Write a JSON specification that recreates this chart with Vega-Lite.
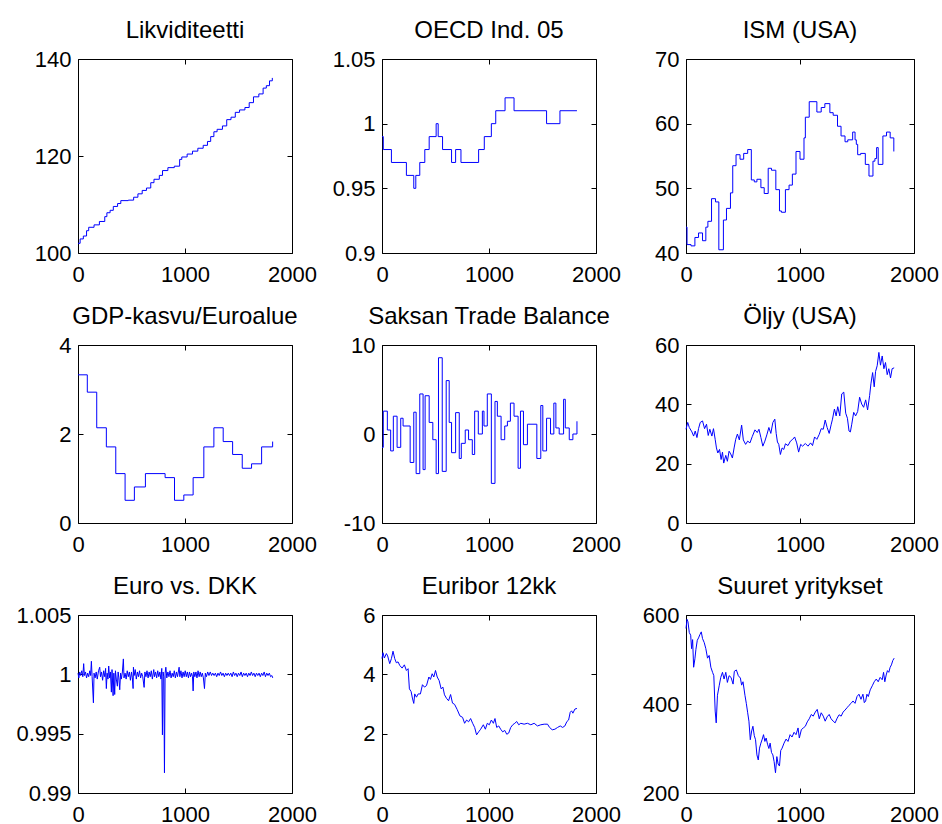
{
"$schema": "https://vega.github.io/schema/vega-lite/v6.json",
"autosize": {"type": "none"},
"padding": {"left": 78, "top": 59, "right": 864, "bottom": 765},
"background": "white",
"datasets": {
"likv": [{"x":0,"y":102.0},{"x":20,"y":102.9},{"x":50,"y":103.5},{"x":80,"y":104.6},{"x":100,"y":105.3},{"x":150,"y":105.8},{"x":200,"y":106.5},{"x":250,"y":107.5},{"x":270,"y":108.3},{"x":300,"y":108.8},{"x":330,"y":109.6},{"x":370,"y":110.2},{"x":400,"y":110.8},{"x":470,"y":110.9},{"x":520,"y":111.5},{"x":560,"y":112.2},{"x":600,"y":112.9},{"x":640,"y":113.4},{"x":680,"y":114.5},{"x":710,"y":115.2},{"x":760,"y":116.0},{"x":790,"y":117.0},{"x":840,"y":117.6},{"x":900,"y":117.9},{"x":950,"y":119.3},{"x":970,"y":119.8},{"x":1020,"y":120.4},{"x":1070,"y":121.0},{"x":1120,"y":121.6},{"x":1170,"y":122.2},{"x":1210,"y":123.0},{"x":1240,"y":124.0},{"x":1270,"y":125.0},{"x":1300,"y":125.5},{"x":1350,"y":126.2},{"x":1390,"y":127.5},{"x":1430,"y":128.0},{"x":1470,"y":129.0},{"x":1510,"y":129.5},{"x":1560,"y":130.0},{"x":1600,"y":131.0},{"x":1640,"y":132.2},{"x":1690,"y":132.8},{"x":1730,"y":134.0},{"x":1760,"y":134.5},{"x":1790,"y":135.5},{"x":1816,"y":136.1}],
"oecd": [{"x":0,"y":0.99},{"x":12,"y":0.98},{"x":88,"y":0.97},{"x":228,"y":0.96},{"x":297,"y":0.95},{"x":316,"y":0.96},{"x":353,"y":0.97},{"x":400,"y":0.98},{"x":441,"y":0.99},{"x":506,"y":1.00},{"x":525,"y":0.99},{"x":566,"y":0.98},{"x":650,"y":0.97},{"x":688,"y":0.98},{"x":738,"y":0.97},{"x":903,"y":0.98},{"x":956,"y":0.99},{"x":1022,"y":1.00},{"x":1063,"y":1.01},{"x":1150,"y":1.02},{"x":1234,"y":1.01},{"x":1538,"y":1.00},{"x":1663,"y":1.01},{"x":1822,"y":1.01}],
"ism": [{"x":0,"y":44.0},{"x":9,"y":41.3},{"x":44,"y":41.1},{"x":78,"y":42.4},{"x":110,"y":43.1},{"x":145,"y":41.9},{"x":174,"y":44.0},{"x":192,"y":44.9},{"x":224,"y":48.4},{"x":259,"y":47.9},{"x":288,"y":40.5},{"x":328,"y":45.1},{"x":355,"y":46.9},{"x":390,"y":49.3},{"x":410,"y":53.5},{"x":439,"y":55.2},{"x":474,"y":54.5},{"x":506,"y":55.4},{"x":541,"y":56.0},{"x":573,"y":51.3},{"x":599,"y":51.0},{"x":622,"y":51.4},{"x":657,"y":50.1},{"x":686,"y":49.2},{"x":721,"y":53.1},{"x":750,"y":52.8},{"x":788,"y":49.8},{"x":820,"y":46.5},{"x":837,"y":46.3},{"x":872,"y":49.8},{"x":904,"y":50.5},{"x":933,"y":52.2},{"x":965,"y":55.7},{"x":1000,"y":54.5},{"x":1035,"y":57.8},{"x":1047,"y":61.0},{"x":1081,"y":63.4},{"x":1148,"y":61.8},{"x":1186,"y":62.5},{"x":1218,"y":63.1},{"x":1262,"y":61.7},{"x":1291,"y":61.3},{"x":1329,"y":59.6},{"x":1360,"y":58.1},{"x":1395,"y":57.2},{"x":1419,"y":57.5},{"x":1462,"y":58.7},{"x":1483,"y":57.5},{"x":1494,"y":56.8},{"x":1506,"y":55.2},{"x":1532,"y":55.4},{"x":1573,"y":53.7},{"x":1605,"y":51.9},{"x":1640,"y":54.2},{"x":1657,"y":54.6},{"x":1672,"y":56.3},{"x":1686,"y":53.7},{"x":1727,"y":58.1},{"x":1759,"y":58.7},{"x":1791,"y":57.8},{"x":1823,"y":55.7}],
"gdp": [{"x":0,"y":3.33},{"x":87,"y":2.94},{"x":175,"y":2.14},{"x":265,"y":1.71},{"x":353,"y":1.11},{"x":440,"y":0.51},{"x":527,"y":0.81},{"x":630,"y":1.11},{"x":814,"y":1.02},{"x":902,"y":0.51},{"x":989,"y":0.63},{"x":1076,"y":1.02},{"x":1176,"y":1.71},{"x":1270,"y":2.14},{"x":1357,"y":1.83},{"x":1445,"y":1.54},{"x":1535,"y":1.23},{"x":1622,"y":1.33},{"x":1716,"y":1.71},{"x":1819,"y":1.83}],
"trade": [{"x":0,"y":-1.5},{"x":12,"y":2.57},{"x":50,"y":0.45},{"x":81,"y":-1.9},{"x":106,"y":2.0},{"x":141,"y":-1.5},{"x":175,"y":1.77},{"x":197,"y":0.9},{"x":263,"y":-3.2},{"x":297,"y":2.45},{"x":319,"y":-4.45},{"x":353,"y":4.5},{"x":384,"y":-4.0},{"x":403,"y":4.3},{"x":441,"y":1.3},{"x":475,"y":-0.64},{"x":506,"y":-4.45},{"x":528,"y":8.57},{"x":563,"y":-4.2},{"x":600,"y":6.0},{"x":628,"y":1.3},{"x":650,"y":-2.1},{"x":688,"y":2.4},{"x":722,"y":-2.75},{"x":741,"y":-1.05},{"x":778,"y":0.45},{"x":809,"y":-0.64},{"x":844,"y":-2.3},{"x":866,"y":2.57},{"x":900,"y":0},{"x":938,"y":2.57},{"x":953,"y":0.9},{"x":984,"y":4.5},{"x":1022,"y":-5.55},{"x":1056,"y":3.66},{"x":1078,"y":2.0},{"x":1113,"y":-0.64},{"x":1147,"y":0.9},{"x":1172,"y":1.43},{"x":1200,"y":3.47},{"x":1234,"y":2.0},{"x":1272,"y":-3.85},{"x":1294,"y":2.57},{"x":1322,"y":-1.2},{"x":1359,"y":1.1},{"x":1447,"y":-2.75},{"x":1484,"y":3.2},{"x":1503,"y":-1.9},{"x":1538,"y":1.77},{"x":1575,"y":0},{"x":1606,"y":3.47},{"x":1625,"y":0.68},{"x":1656,"y":0},{"x":1697,"y":3.9},{"x":1713,"y":0.68},{"x":1750,"y":-0.64},{"x":1784,"y":0},{"x":1822,"y":1.43}],
"oil": [{"x":0,"y":31.6},{"x":15,"y":33.9},{"x":29,"y":32.2},{"x":52,"y":30.7},{"x":67,"y":29.3},{"x":81,"y":31.0},{"x":96,"y":28.8},{"x":110,"y":31.8},{"x":125,"y":33.9},{"x":145,"y":34.4},{"x":163,"y":31.8},{"x":180,"y":33.3},{"x":195,"y":29.5},{"x":209,"y":31.6},{"x":227,"y":29.3},{"x":241,"y":31.8},{"x":256,"y":28.2},{"x":267,"y":25.3},{"x":279,"y":23.6},{"x":294,"y":24.8},{"x":308,"y":21.4},{"x":320,"y":23.9},{"x":331,"y":20.2},{"x":349,"y":22.8},{"x":363,"y":20.8},{"x":378,"y":24.2},{"x":392,"y":23.3},{"x":407,"y":21.9},{"x":422,"y":25.3},{"x":436,"y":28.2},{"x":451,"y":30.0},{"x":468,"y":28.0},{"x":488,"y":33.0},{"x":503,"y":28.0},{"x":523,"y":26.5},{"x":541,"y":27.6},{"x":561,"y":27.0},{"x":581,"y":29.1},{"x":605,"y":31.4},{"x":625,"y":30.5},{"x":640,"y":31.6},{"x":657,"y":28.8},{"x":674,"y":25.9},{"x":692,"y":27.6},{"x":709,"y":29.7},{"x":727,"y":32.2},{"x":744,"y":30.2},{"x":762,"y":33.9},{"x":779,"y":35.0},{"x":791,"y":30.2},{"x":802,"y":27.3},{"x":814,"y":26.5},{"x":828,"y":23.1},{"x":843,"y":25.3},{"x":858,"y":24.8},{"x":872,"y":26.7},{"x":895,"y":26.1},{"x":916,"y":27.6},{"x":936,"y":28.2},{"x":953,"y":29.0},{"x":971,"y":27.0},{"x":988,"y":23.9},{"x":1006,"y":26.5},{"x":1023,"y":25.9},{"x":1047,"y":26.8},{"x":1070,"y":25.9},{"x":1093,"y":27.0},{"x":1110,"y":26.1},{"x":1128,"y":29.0},{"x":1148,"y":28.2},{"x":1169,"y":29.9},{"x":1186,"y":31.8},{"x":1204,"y":31.6},{"x":1221,"y":34.7},{"x":1238,"y":32.2},{"x":1256,"y":30.2},{"x":1273,"y":33.1},{"x":1285,"y":35.0},{"x":1302,"y":38.4},{"x":1317,"y":36.1},{"x":1331,"y":39.2},{"x":1349,"y":36.1},{"x":1366,"y":43.5},{"x":1384,"y":44.1},{"x":1401,"y":37.0},{"x":1416,"y":35.3},{"x":1430,"y":31.0},{"x":1442,"y":30.7},{"x":1454,"y":33.3},{"x":1471,"y":37.3},{"x":1488,"y":36.1},{"x":1506,"y":37.6},{"x":1523,"y":42.4},{"x":1541,"y":40.1},{"x":1558,"y":39.0},{"x":1576,"y":41.5},{"x":1593,"y":38.1},{"x":1611,"y":43.0},{"x":1622,"y":46.9},{"x":1637,"y":50.7},{"x":1651,"y":45.9},{"x":1663,"y":51.1},{"x":1677,"y":53.0},{"x":1692,"y":57.5},{"x":1706,"y":53.2},{"x":1721,"y":56.3},{"x":1736,"y":52.0},{"x":1750,"y":54.1},{"x":1765,"y":50.0},{"x":1779,"y":52.0},{"x":1794,"y":48.9},{"x":1808,"y":52.0},{"x":1826,"y":52.3}],
"dkk": [{"x":0,"y":1.0001},{"x":8,"y":0.9997},{"x":16,"y":1.0002},{"x":25,"y":0.9999},{"x":35,"y":1.0003},{"x":45,"y":0.9998},{"x":53,"y":1.0009},{"x":60,"y":0.9999},{"x":70,"y":1.0002},{"x":80,"y":0.9997},{"x":90,"y":1.0001},{"x":100,"y":0.9998},{"x":110,"y":1.0003},{"x":118,"y":0.9999},{"x":125,"y":1.0011},{"x":132,"y":0.9998},{"x":144,"y":0.9976},{"x":150,"y":1.0001},{"x":160,"y":0.9997},{"x":170,"y":1.0002},{"x":180,"y":0.9996},{"x":192,"y":1.0003},{"x":203,"y":1.0006},{"x":210,"y":0.9998},{"x":220,"y":1.0002},{"x":230,"y":0.9995},{"x":240,"y":1.0003},{"x":250,"y":0.9998},{"x":258,"y":1.0005},{"x":265,"y":0.9988},{"x":272,"y":1.0001},{"x":280,"y":0.9996},{"x":287,"y":1.0007},{"x":295,"y":0.9997},{"x":303,"y":1.0002},{"x":312,"y":0.9985},{"x":318,"y":1.0004},{"x":328,"y":0.9982},{"x":335,"y":1.0001},{"x":343,"y":0.9983},{"x":350,"y":1.0003},{"x":358,"y":0.9996},{"x":368,"y":0.9990},{"x":375,"y":1.0002},{"x":382,"y":0.9997},{"x":390,"y":0.9987},{"x":398,"y":1.0001},{"x":405,"y":0.9996},{"x":415,"y":1.0002},{"x":424,"y":1.0013},{"x":430,"y":0.9997},{"x":440,"y":1.0001},{"x":450,"y":0.9996},{"x":460,"y":1.0003},{"x":470,"y":0.9998},{"x":480,"y":1.0002},{"x":490,"y":0.9995},{"x":500,"y":1.0002},{"x":508,"y":0.9997},{"x":515,"y":0.9988},{"x":518,"y":1.0006},{"x":525,"y":0.9999},{"x":535,"y":1.0004},{"x":545,"y":0.9996},{"x":555,"y":1.0002},{"x":565,"y":0.9998},{"x":575,"y":1.0003},{"x":585,"y":0.9997},{"x":595,"y":1.0001},{"x":605,"y":0.9998},{"x":618,"y":0.9989},{"x":625,"y":1.0002},{"x":635,"y":0.9998},{"x":645,"y":1.0003},{"x":655,"y":0.9997},{"x":665,"y":1.0002},{"x":675,"y":0.9998},{"x":685,"y":1.0003},{"x":695,"y":0.9996},{"x":708,"y":1.0004},{"x":715,"y":0.9998},{"x":725,"y":1.0002},{"x":735,"y":0.9997},{"x":745,"y":1.0003},{"x":755,"y":0.9998},{"x":765,"y":1.0002},{"x":775,"y":0.9996},{"x":783,"y":1.0005},{"x":789,"y":0.9949},{"x":795,"y":1.0002},{"x":802,"y":0.9998},{"x":808,"y":0.9917},{"x":814,"y":1.0001},{"x":821,"y":1.0006},{"x":830,"y":0.9997},{"x":840,"y":1.0002},{"x":850,"y":0.9998},{"x":860,"y":1.0003},{"x":870,"y":0.9997},{"x":880,"y":1.0001},{"x":890,"y":0.9998},{"x":900,"y":1.0003},{"x":910,"y":0.9997},{"x":920,"y":1.0002},{"x":930,"y":0.9998},{"x":945,"y":1.0006},{"x":952,"y":0.9998},{"x":962,"y":1.0003},{"x":972,"y":0.9997},{"x":982,"y":1.0002},{"x":992,"y":0.9998},{"x":1002,"y":1.0003},{"x":1012,"y":0.9998},{"x":1022,"y":1.0002},{"x":1032,"y":0.9997},{"x":1042,"y":1.0002},{"x":1052,"y":0.9998},{"x":1062,"y":1.0001},{"x":1070,"y":0.9998},{"x":1076,"y":0.9986},{"x":1082,"y":1.0002},{"x":1092,"y":0.9998},{"x":1102,"y":1.0002},{"x":1112,"y":0.9997},{"x":1122,"y":1.0003},{"x":1132,"y":0.9998},{"x":1142,"y":1.0002},{"x":1152,"y":0.9998},{"x":1162,"y":1.0001},{"x":1172,"y":0.9997},{"x":1182,"y":0.9988},{"x":1190,"y":1.0001},{"x":1200,"y":0.9998},{"x":1212,"y":1.0002},{"x":1224,"y":0.9999},{"x":1236,"y":1.0002},{"x":1248,"y":0.9999},{"x":1260,"y":1.0001},{"x":1272,"y":0.9999},{"x":1284,"y":1.0001},{"x":1296,"y":0.9998},{"x":1308,"y":1.0001},{"x":1320,"y":0.9999},{"x":1332,"y":1.0002},{"x":1344,"y":0.9999},{"x":1356,"y":1.0001},{"x":1368,"y":0.9998},{"x":1380,"y":1.0001},{"x":1392,"y":0.9999},{"x":1404,"y":1.0001},{"x":1416,"y":0.9999},{"x":1428,"y":1.0001},{"x":1440,"y":0.9998},{"x":1452,"y":1.0002},{"x":1464,"y":0.9999},{"x":1476,"y":1.0001},{"x":1488,"y":0.9998},{"x":1500,"y":1.0001},{"x":1512,"y":0.9999},{"x":1524,"y":1.0002},{"x":1536,"y":0.9998},{"x":1548,"y":1.0001},{"x":1560,"y":0.9999},{"x":1572,"y":1.0001},{"x":1584,"y":0.9998},{"x":1596,"y":1.0001},{"x":1608,"y":0.9999},{"x":1620,"y":1.0002},{"x":1632,"y":0.9999},{"x":1644,"y":1.0001},{"x":1656,"y":0.9998},{"x":1668,"y":1.0001},{"x":1680,"y":0.9999},{"x":1692,"y":1.0001},{"x":1704,"y":0.9998},{"x":1716,"y":1.0001},{"x":1728,"y":0.9999},{"x":1740,"y":1.0002},{"x":1752,"y":0.9998},{"x":1764,"y":1.0001},{"x":1776,"y":0.9999},{"x":1788,"y":1.0001},{"x":1800,"y":0.9998},{"x":1812,"y":0.9999},{"x":1820,"y":0.9997}],
"euribor": [{"x":0,"y":4.53},{"x":9,"y":4.73},{"x":22,"y":4.55},{"x":41,"y":4.70},{"x":53,"y":4.62},{"x":72,"y":4.36},{"x":88,"y":4.53},{"x":103,"y":4.78},{"x":119,"y":4.53},{"x":134,"y":4.39},{"x":150,"y":4.42},{"x":166,"y":4.30},{"x":188,"y":4.21},{"x":209,"y":4.32},{"x":228,"y":4.13},{"x":244,"y":4.19},{"x":256,"y":3.51},{"x":272,"y":3.42},{"x":284,"y":3.20},{"x":297,"y":3.02},{"x":306,"y":3.34},{"x":322,"y":3.23},{"x":338,"y":3.34},{"x":359,"y":3.34},{"x":378,"y":3.65},{"x":397,"y":3.57},{"x":416,"y":3.62},{"x":438,"y":3.91},{"x":453,"y":3.83},{"x":469,"y":4.02},{"x":484,"y":3.91},{"x":500,"y":4.13},{"x":516,"y":3.91},{"x":534,"y":3.79},{"x":553,"y":3.51},{"x":569,"y":3.57},{"x":584,"y":3.31},{"x":603,"y":3.19},{"x":622,"y":3.11},{"x":641,"y":3.32},{"x":659,"y":3.03},{"x":678,"y":2.99},{"x":703,"y":2.81},{"x":728,"y":2.60},{"x":753,"y":2.55},{"x":772,"y":2.35},{"x":791,"y":2.46},{"x":809,"y":2.40},{"x":828,"y":2.51},{"x":847,"y":2.35},{"x":866,"y":2.21},{"x":884,"y":1.96},{"x":903,"y":2.06},{"x":922,"y":2.15},{"x":947,"y":2.30},{"x":966,"y":2.15},{"x":984,"y":2.35},{"x":1003,"y":2.30},{"x":1022,"y":2.46},{"x":1041,"y":2.35},{"x":1056,"y":2.51},{"x":1072,"y":2.21},{"x":1091,"y":2.26},{"x":1109,"y":2.15},{"x":1128,"y":2.06},{"x":1147,"y":2.11},{"x":1166,"y":1.98},{"x":1184,"y":2.02},{"x":1203,"y":2.21},{"x":1222,"y":2.30},{"x":1241,"y":2.35},{"x":1259,"y":2.41},{"x":1278,"y":2.30},{"x":1297,"y":2.35},{"x":1328,"y":2.32},{"x":1359,"y":2.35},{"x":1391,"y":2.30},{"x":1422,"y":2.35},{"x":1453,"y":2.26},{"x":1484,"y":2.30},{"x":1516,"y":2.32},{"x":1547,"y":2.32},{"x":1566,"y":2.21},{"x":1591,"y":2.13},{"x":1616,"y":2.15},{"x":1641,"y":2.21},{"x":1666,"y":2.26},{"x":1688,"y":2.21},{"x":1709,"y":2.26},{"x":1728,"y":2.41},{"x":1744,"y":2.46},{"x":1759,"y":2.72},{"x":1772,"y":2.77},{"x":1784,"y":2.69},{"x":1803,"y":2.83},{"x":1822,"y":2.85}],
"suuret": [{"x":0,"y":569.7},{"x":9,"y":590.2},{"x":17,"y":584.9},{"x":29,"y":560.6},{"x":41,"y":554.6},{"x":49,"y":524.3},{"x":58,"y":544.7},{"x":67,"y":482.6},{"x":78,"y":501.5},{"x":87,"y":522.7},{"x":99,"y":543.2},{"x":110,"y":548.5},{"x":122,"y":556.1},{"x":134,"y":562.1},{"x":145,"y":547.0},{"x":160,"y":537.9},{"x":174,"y":524.3},{"x":189,"y":503.0},{"x":203,"y":509.1},{"x":218,"y":482.6},{"x":233,"y":471.2},{"x":244,"y":463.6},{"x":256,"y":384.1},{"x":265,"y":357.6},{"x":276,"y":419.7},{"x":291,"y":440.9},{"x":305,"y":459.9},{"x":320,"y":471.2},{"x":334,"y":456.1},{"x":349,"y":471.2},{"x":363,"y":448.5},{"x":378,"y":463.6},{"x":395,"y":459.9},{"x":413,"y":444.7},{"x":424,"y":473.5},{"x":442,"y":476.5},{"x":459,"y":463.6},{"x":477,"y":458.3},{"x":488,"y":442.4},{"x":500,"y":450.0},{"x":517,"y":419.7},{"x":529,"y":401.5},{"x":541,"y":380.3},{"x":552,"y":361.4},{"x":564,"y":319.7},{"x":576,"y":339.4},{"x":587,"y":350.0},{"x":599,"y":328.8},{"x":610,"y":319.7},{"x":622,"y":285.6},{"x":634,"y":274.2},{"x":645,"y":300.8},{"x":657,"y":312.1},{"x":669,"y":321.2},{"x":680,"y":331.1},{"x":692,"y":315.9},{"x":703,"y":323.5},{"x":715,"y":309.8},{"x":727,"y":300.0},{"x":738,"y":312.1},{"x":750,"y":290.9},{"x":762,"y":285.6},{"x":773,"y":270.5},{"x":785,"y":245.5},{"x":797,"y":281.8},{"x":808,"y":265.2},{"x":820,"y":260.6},{"x":831,"y":295.5},{"x":843,"y":300.8},{"x":860,"y":312.1},{"x":878,"y":321.2},{"x":895,"y":315.9},{"x":913,"y":331.1},{"x":930,"y":325.8},{"x":948,"y":336.4},{"x":965,"y":331.1},{"x":983,"y":346.2},{"x":994,"y":323.5},{"x":1012,"y":342.4},{"x":1029,"y":346.2},{"x":1047,"y":350.0},{"x":1064,"y":359.9},{"x":1081,"y":366.7},{"x":1099,"y":376.5},{"x":1116,"y":372.7},{"x":1134,"y":381.8},{"x":1151,"y":387.9},{"x":1169,"y":366.7},{"x":1186,"y":380.3},{"x":1204,"y":372.7},{"x":1221,"y":361.4},{"x":1238,"y":371.2},{"x":1256,"y":376.5},{"x":1273,"y":366.7},{"x":1291,"y":361.4},{"x":1308,"y":357.6},{"x":1326,"y":368.2},{"x":1343,"y":375.8},{"x":1361,"y":372.7},{"x":1378,"y":381.8},{"x":1395,"y":386.4},{"x":1413,"y":391.7},{"x":1430,"y":397.0},{"x":1448,"y":401.5},{"x":1465,"y":406.8},{"x":1483,"y":401.5},{"x":1500,"y":416.7},{"x":1517,"y":422.0},{"x":1535,"y":410.6},{"x":1552,"y":422.0},{"x":1564,"y":403.0},{"x":1576,"y":406.8},{"x":1587,"y":422.0},{"x":1599,"y":416.7},{"x":1616,"y":431.8},{"x":1634,"y":440.9},{"x":1651,"y":450.0},{"x":1669,"y":456.1},{"x":1686,"y":450.0},{"x":1703,"y":459.9},{"x":1721,"y":454.5},{"x":1733,"y":471.2},{"x":1744,"y":450.0},{"x":1756,"y":465.2},{"x":1767,"y":475.0},{"x":1779,"y":471.2},{"x":1791,"y":482.6},{"x":1802,"y":487.9},{"x":1814,"y":497.7},{"x":1826,"y":503.0}]
},
"concat": [
{"title": "Likviditeetti", "width": 214, "height": 194, "data": {"name": "likv"},
 "layer": [
  {"mark": {"type": "line", "interpolate": "step-after"}, "encoding": {"x": {"field": "x", "type": "quantitative", "title": null, "scale": {"domain": [0, 2000], "nice": false}, "axis": {"values": [0, 1000, 2000]}}, "y": {"field": "y", "type": "quantitative", "title": null, "scale": {"domain": [100, 140], "nice": false, "zero": false}, "axis": {"values": [100, 120, 140]}}}},
  {"mark": {"type": "line", "opacity": 0}, "encoding": {"x": {"field": "x", "type": "quantitative", "title": null, "axis": {"orient": "top", "values": [0, 1000, 2000]}}, "y": {"field": "y", "type": "quantitative", "title": null, "axis": {"orient": "right", "values": [100, 120, 140]}}}}
 ], "resolve": {"axis": {"x": "independent", "y": "independent"}}},
{"title": "OECD Ind. 05", "width": 214, "height": 194, "data": {"name": "oecd"},
 "layer": [
  {"mark": {"type": "line", "interpolate": "step-after"}, "encoding": {"x": {"field": "x", "type": "quantitative", "title": null, "scale": {"domain": [0, 2000], "nice": false}, "axis": {"values": [0, 1000, 2000]}}, "y": {"field": "y", "type": "quantitative", "title": null, "scale": {"domain": [0.9, 1.05], "nice": false, "zero": false}, "axis": {"values": [0.9, 0.95, 1, 1.05]}}}},
  {"mark": {"type": "line", "opacity": 0}, "encoding": {"x": {"field": "x", "type": "quantitative", "title": null, "axis": {"orient": "top", "values": [0, 1000, 2000]}}, "y": {"field": "y", "type": "quantitative", "title": null, "axis": {"orient": "right", "values": [0.9, 0.95, 1, 1.05]}}}}
 ], "resolve": {"axis": {"x": "independent", "y": "independent"}}},
{"title": "ISM (USA)", "width": 228, "height": 194, "data": {"name": "ism"},
 "layer": [
  {"mark": {"type": "line", "interpolate": "step-after"}, "encoding": {"x": {"field": "x", "type": "quantitative", "title": null, "scale": {"domain": [0, 2000], "nice": false}, "axis": {"values": [0, 1000, 2000]}}, "y": {"field": "y", "type": "quantitative", "title": null, "scale": {"domain": [40, 70], "nice": false, "zero": false}, "axis": {"values": [40, 50, 60, 70]}}}},
  {"mark": {"type": "line", "opacity": 0}, "encoding": {"x": {"field": "x", "type": "quantitative", "title": null, "axis": {"orient": "top", "values": [0, 1000, 2000]}}, "y": {"field": "y", "type": "quantitative", "title": null, "axis": {"orient": "right", "values": [40, 50, 60, 70]}}}}
 ], "resolve": {"axis": {"x": "independent", "y": "independent"}}},
{"title": "GDP-kasvu/Euroalue", "width": 214, "height": 178, "data": {"name": "gdp"},
 "layer": [
  {"mark": {"type": "line", "interpolate": "step-after"}, "encoding": {"x": {"field": "x", "type": "quantitative", "title": null, "scale": {"domain": [0, 2000], "nice": false}, "axis": {"values": [0, 1000, 2000]}}, "y": {"field": "y", "type": "quantitative", "title": null, "scale": {"domain": [0, 4], "nice": false}, "axis": {"values": [0, 2, 4]}}}},
  {"mark": {"type": "line", "opacity": 0}, "encoding": {"x": {"field": "x", "type": "quantitative", "title": null, "axis": {"orient": "top", "values": [0, 1000, 2000]}}, "y": {"field": "y", "type": "quantitative", "title": null, "axis": {"orient": "right", "values": [0, 2, 4]}}}}
 ], "resolve": {"axis": {"x": "independent", "y": "independent"}}},
{"title": "Saksan Trade Balance", "width": 214, "height": 178, "data": {"name": "trade"},
 "layer": [
  {"mark": {"type": "line", "interpolate": "step-after"}, "encoding": {"x": {"field": "x", "type": "quantitative", "title": null, "scale": {"domain": [0, 2000], "nice": false}, "axis": {"values": [0, 1000, 2000]}}, "y": {"field": "y", "type": "quantitative", "title": null, "scale": {"domain": [-10, 10], "nice": false}, "axis": {"values": [-10, 0, 10]}}}},
  {"mark": {"type": "line", "opacity": 0}, "encoding": {"x": {"field": "x", "type": "quantitative", "title": null, "axis": {"orient": "top", "values": [0, 1000, 2000]}}, "y": {"field": "y", "type": "quantitative", "title": null, "axis": {"orient": "right", "values": [-10, 0, 10]}}}}
 ], "resolve": {"axis": {"x": "independent", "y": "independent"}}},
{"title": "Öljy (USA)", "width": 228, "height": 178, "data": {"name": "oil"},
 "layer": [
  {"mark": {"type": "line"}, "encoding": {"x": {"field": "x", "type": "quantitative", "title": null, "scale": {"domain": [0, 2000], "nice": false}, "axis": {"values": [0, 1000, 2000]}}, "y": {"field": "y", "type": "quantitative", "title": null, "scale": {"domain": [0, 60], "nice": false}, "axis": {"values": [0, 20, 40, 60]}}}},
  {"mark": {"type": "line", "opacity": 0}, "encoding": {"x": {"field": "x", "type": "quantitative", "title": null, "axis": {"orient": "top", "values": [0, 1000, 2000]}}, "y": {"field": "y", "type": "quantitative", "title": null, "axis": {"orient": "right", "values": [0, 20, 40, 60]}}}}
 ], "resolve": {"axis": {"x": "independent", "y": "independent"}}},
{"title": "Euro vs. DKK", "width": 214, "height": 178, "data": {"name": "dkk"},
 "layer": [
  {"mark": {"type": "line"}, "encoding": {"x": {"field": "x", "type": "quantitative", "title": null, "scale": {"domain": [0, 2000], "nice": false}, "axis": {"values": [0, 1000, 2000]}}, "y": {"field": "y", "type": "quantitative", "title": null, "scale": {"domain": [0.99, 1.005], "nice": false, "zero": false}, "axis": {"values": [0.99, 0.995, 1, 1.005]}}}},
  {"mark": {"type": "line", "opacity": 0}, "encoding": {"x": {"field": "x", "type": "quantitative", "title": null, "axis": {"orient": "top", "values": [0, 1000, 2000]}}, "y": {"field": "y", "type": "quantitative", "title": null, "axis": {"orient": "right", "values": [0.99, 0.995, 1, 1.005]}}}}
 ], "resolve": {"axis": {"x": "independent", "y": "independent"}}},
{"title": "Euribor 12kk", "width": 214, "height": 178, "data": {"name": "euribor"},
 "layer": [
  {"mark": {"type": "line"}, "encoding": {"x": {"field": "x", "type": "quantitative", "title": null, "scale": {"domain": [0, 2000], "nice": false}, "axis": {"values": [0, 1000, 2000]}}, "y": {"field": "y", "type": "quantitative", "title": null, "scale": {"domain": [0, 6], "nice": false}, "axis": {"values": [0, 2, 4, 6]}}}},
  {"mark": {"type": "line", "opacity": 0}, "encoding": {"x": {"field": "x", "type": "quantitative", "title": null, "axis": {"orient": "top", "values": [0, 1000, 2000]}}, "y": {"field": "y", "type": "quantitative", "title": null, "axis": {"orient": "right", "values": [0, 2, 4, 6]}}}}
 ], "resolve": {"axis": {"x": "independent", "y": "independent"}}},
{"title": "Suuret yritykset", "width": 228, "height": 178, "data": {"name": "suuret"},
 "layer": [
  {"mark": {"type": "line"}, "encoding": {"x": {"field": "x", "type": "quantitative", "title": null, "scale": {"domain": [0, 2000], "nice": false}, "axis": {"values": [0, 1000, 2000]}}, "y": {"field": "y", "type": "quantitative", "title": null, "scale": {"domain": [200, 600], "nice": false, "zero": false}, "axis": {"values": [200, 400, 600]}}}},
  {"mark": {"type": "line", "opacity": 0}, "encoding": {"x": {"field": "x", "type": "quantitative", "title": null, "axis": {"orient": "top", "values": [0, 1000, 2000]}}, "y": {"field": "y", "type": "quantitative", "title": null, "axis": {"orient": "right", "values": [200, 400, 600]}}}}
 ], "resolve": {"axis": {"x": "independent", "y": "independent"}}}
],
"columns": 3,
"align": "each",
"spacing": {"row": 92, "column": 90},
"bounds": "flush",
"config": {
 "view": {"stroke": "black", "strokeWidth": 1},
 "font": "Liberation Sans",
 "line": {"color": "#0000ff", "strokeWidth": 1},
 "axis": {"domain": false, "grid": false, "tickSize": -5, "tickColor": "black", "tickWidth": 1, "labelFont": "Liberation Sans", "labelFontSize": 22, "labelColor": "black", "labelPadding": 16, "labelExpr": "'' + datum.value", "labelFlush": false, "labelOverlap": false, "labelBound": false},
 "axisY": {"labelPadding": 12},
 "axisTop": {"labels": false},
 "axisRight": {"labels": false},
 "title": {"font": "Liberation Sans", "fontSize": 24, "fontWeight": "normal", "color": "black", "frame": "group", "baseline": "alphabetic", "offset": 5}
}
}
